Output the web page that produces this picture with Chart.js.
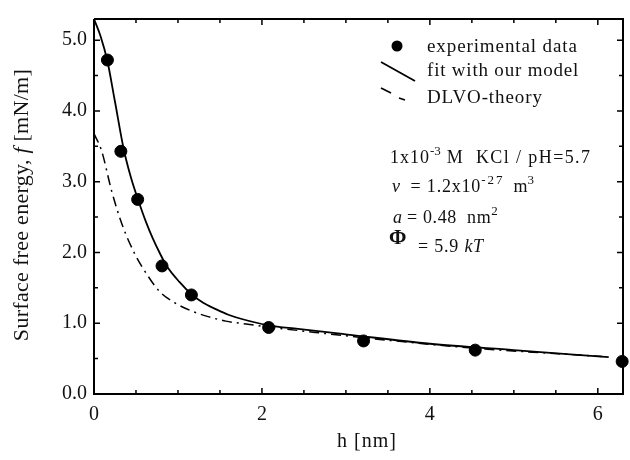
<!DOCTYPE html>
<html>
<head>
<meta charset="utf-8">
<script src="https://cdn.jsdelivr.net/npm/chart.js@4.4.1/dist/chart.umd.min.js"></script>
<style>
  html, body { margin: 0; padding: 0; background: #fff; }
  #wrap { width: 630px; height: 460px; }
</style>
</head>
<body>
<div id="wrap"><canvas id="myChart" width="630" height="460"></canvas></div>
<script>
// measured points
const expH = [0.16, 0.32, 0.52, 0.81, 1.16, 2.08, 3.21, 4.54, 6.29];
const expF = [4.72, 3.43, 2.75, 1.81, 1.40, 0.94, 0.75, 0.62, 0.46];

// model fit
const fitH = [0, 0.08, 0.157, 0.25, 0.354, 0.44, 0.524, 0.62, 0.7, 0.78, 0.86, 1.02, 1.16, 1.3, 1.45, 1.6, 1.76, 2.08, 2.43, 3.02, 4.0, 5.0, 6.13];
const fitF = [5.3, 5.05, 4.72, 4.13, 3.46, 3.06, 2.75, 2.43, 2.2, 2.0, 1.82, 1.58, 1.41, 1.29, 1.2, 1.12, 1.06, 0.97, 0.92, 0.84, 0.71, 0.62, 0.52];

// DLVO prediction
const dlvoH = [0, 0.09, 0.21, 0.33, 0.49, 0.63, 0.78, 0.99, 1.17, 1.37, 1.57, 1.81, 2.2, 2.64, 3.5, 4.5, 6.05];
const dlvoF = [3.68, 3.44, 2.87, 2.41, 1.97, 1.69, 1.45, 1.27, 1.17, 1.09, 1.03, 0.99, 0.93, 0.87, 0.76, 0.65, 0.53];

const xTicks = [0, 2, 4, 6];
const yTicks = [0, 1, 2, 3, 4, 5];
const xMinor = [0.5, 1, 1.5, 2.5, 3, 3.5, 4.5, 5, 5.5];
const yMinor = [0.5, 1.5, 2.5, 3.5, 4.5];

const SERIF = "'Liberation Serif', 'DejaVu Serif', serif";
const INK = "#111";

function pts(xs, ys) {
  return xs.map((x, i) => ({ x: x, y: ys[i] }));
}

// draws a row of text pieces (for super/subscripts and mixed styles)
function drawRuns(ctx, x, y, runs) {
  let cx = x;
  runs.forEach((r) => {
    ctx.font = r.font;
    ctx.letterSpacing = r.ls || "0px";
    if (r.at !== undefined) cx = r.at;
    ctx.fillText(r.t, cx, y + (r.dy || 0));
    cx += ctx.measureText(r.t).width;
  });
  ctx.letterSpacing = "0px";
}

const framePlugin = {
  id: "frame",
  afterDraw(chart) {
    const ctx = chart.ctx;
    const a = chart.chartArea;
    const xs = chart.scales.x;
    const ys = chart.scales.y;
    ctx.save();
    ctx.strokeStyle = "#000";
    ctx.fillStyle = INK;

    // box
    ctx.lineWidth = 2;
    ctx.beginPath();
    ctx.moveTo(a.left, a.top);
    ctx.lineTo(a.left, a.bottom);
    ctx.lineTo(a.right, a.bottom);
    ctx.lineTo(a.right, a.top);
    ctx.lineTo(a.left, a.top);
    ctx.stroke();

    // inward ticks on all four sides
    ctx.lineWidth = 1.5;
    ctx.beginPath();
    xTicks.concat(xMinor).forEach((v) => {
      const px = xs.getPixelForValue(v);
      const len = xTicks.includes(v) ? 6 : 4;
      ctx.moveTo(px, a.bottom); ctx.lineTo(px, a.bottom - len);
      ctx.moveTo(px, a.top); ctx.lineTo(px, a.top + len);
    });
    yTicks.concat(yMinor).forEach((v) => {
      const py = ys.getPixelForValue(v);
      const len = yTicks.includes(v) ? 6 : 4;
      ctx.moveTo(a.left, py); ctx.lineTo(a.left + len, py);
      ctx.moveTo(a.right, py); ctx.lineTo(a.right - len, py);
    });
    ctx.stroke();

    // axis titles
    ctx.textAlign = "center";
    ctx.textBaseline = "alphabetic";
    ctx.font = "20px " + SERIF;
    ctx.letterSpacing = "1px";
    ctx.fillText("h [nm]", 367, 447);
    ctx.letterSpacing = "0px";

    ctx.save();
    ctx.translate(28, 205);
    ctx.rotate(-Math.PI / 2);
    ctx.textAlign = "left";
    const ytRuns = [
      { t: "Surface free energy, ", font: "22px " + SERIF, ls: "0.3px" },
      { t: "f", font: "italic 22px " + SERIF },
      { t: " [mN/m]", font: "22px " + SERIF, ls: "0.3px" },
    ];
    let w = 0;
    ytRuns.forEach((r) => {
      ctx.font = r.font; ctx.letterSpacing = r.ls || "0px";
      w += ctx.measureText(r.t).width;
    });
    drawRuns(ctx, -w / 2, 0, ytRuns);
    ctx.restore();

    // legend
    ctx.textAlign = "left";
    ctx.beginPath();
    ctx.arc(397, 46, 5.5, 0, Math.PI * 2);
    ctx.fillStyle = "#000";
    ctx.fill();
    ctx.fillStyle = INK;
    ctx.lineWidth = 1.8;
    ctx.beginPath();
    ctx.moveTo(381, 62); ctx.lineTo(415, 81);
    ctx.stroke();
    ctx.lineWidth = 1.6;
    ctx.beginPath();
    ctx.moveTo(381, 88); ctx.lineTo(391, 93);
    ctx.moveTo(399, 98); ctx.lineTo(405, 100);
    ctx.stroke();
    const lf = "19px " + SERIF;
    drawRuns(ctx, 427, 52, [{ t: "experimental data", font: lf, ls: "0.9px" }]);
    drawRuns(ctx, 427, 76, [{ t: "fit with our model", font: lf, ls: "0.8px" }]);
    drawRuns(ctx, 427, 103, [{ t: "DLVO-theory", font: lf, ls: "0.9px" }]);

    // conditions
    const nf = "18px " + SERIF;
    const sf = "13px " + SERIF;
    drawRuns(ctx, 390, 163, [
      { t: "1x10", font: nf, ls: "1px" },
      { t: "-3", font: sf, dy: -8 },
      { t: " M  KCl / pH=5.7", font: nf, ls: "1.4px" },
    ]);
    drawRuns(ctx, 392, 192, [
      { t: "\u03bd", font: "italic 18px " + SERIF },
      { t: "  = 1.2x10", font: nf, ls: "0.8px" },
      { t: "-27", font: sf, dy: -8, ls: "2px" },
      { t: "  m", font: nf },
      { t: "3", font: sf, dy: -8 },
    ]);
    drawRuns(ctx, 393, 223, [
      { t: "a", font: "italic 18px " + SERIF },
      { t: " = 0.48  nm", font: nf, ls: "0.6px" },
      { t: "2", font: sf, dy: -8 },
    ]);
    drawRuns(ctx, 389, 244, [{ t: "\u03a6", font: "bold 21px " + SERIF }]);
    drawRuns(ctx, 418, 252, [
      { t: "= 5.9 ", font: nf, ls: "0.8px" },
      { t: "kT", font: "italic 18px " + SERIF, ls: "0.6px" },
    ]);
    ctx.restore();
  },
};

const ctx = document.getElementById("myChart").getContext("2d");
const myChart = new Chart(ctx, {
  type: "scatter",
  data: {
    datasets: [
      {
        label: "fit with our model",
        data: pts(fitH, fitF),
        showLine: true,
        borderColor: "#000",
        borderWidth: 1.8,
        pointRadius: 0,
        cubicInterpolationMode: "monotone",
      },
      {
        label: "DLVO-theory",
        data: pts(dlvoH, dlvoF),
        showLine: true,
        borderColor: "#000",
        borderWidth: 1.5,
        borderDash: [10, 5, 2, 5],
        pointRadius: 0,
        cubicInterpolationMode: "monotone",
      },
      {
        label: "experimental data",
        data: pts(expH, expF),
        showLine: false,
        pointRadius: 6,
        pointBackgroundColor: "#000",
        pointBorderColor: "#000",
        clip: false,
      },
    ],
  },
  options: {
    responsive: false,
    animation: false,
    layout: { padding: { top: 11, right: 4, left: 0, bottom: 0 } },
    plugins: { legend: { display: false }, tooltip: { enabled: false } },
    scales: {
      x: {
        type: "linear",
        min: 0,
        max: 6.3,
        afterFit: (s) => { s.height = 66; },
        afterBuildTicks: (s) => { s.ticks = xTicks.map((v) => ({ value: v })); },
        ticks: { font: { family: SERIF, size: 20 }, color: INK, padding: 9, maxRotation: 0 },
        grid: { display: false, drawTicks: false },
        border: { display: false },
      },
      y: {
        min: 0,
        max: 5.3,
        afterFit: (s) => { s.width = 94; },
        afterBuildTicks: (s) => { s.ticks = yTicks.map((v) => ({ value: v })); },
        ticks: {
          font: { family: SERIF, size: 20 },
          color: INK,
          padding: 7,
          callback: (v) => v.toFixed(1),
        },
        grid: { display: false, drawTicks: false },
        border: { display: false },
      },
    },
  },
  plugins: [framePlugin],
});
</script>
</body>
</html>
